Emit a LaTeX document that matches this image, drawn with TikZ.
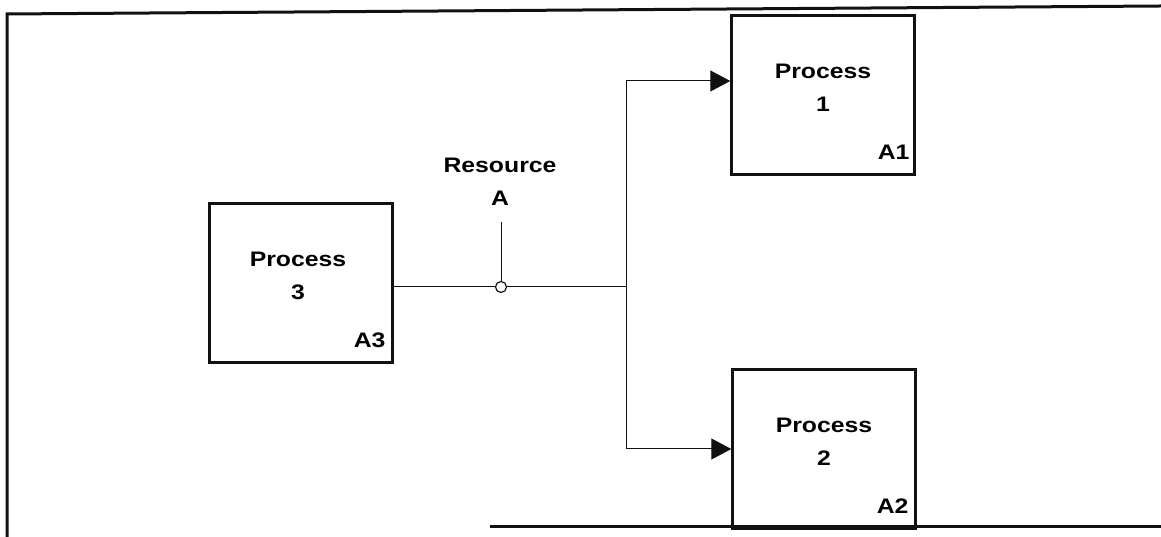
\documentclass[tikz,border=0pt]{standalone}
\usepackage{fontspec}
\setmainfont{Liberation Sans}[FakeStretch=1.18]
\usepackage{xcolor}
\usepackage{tikz}
\usetikzlibrary{
  arrows.meta, shapes, positioning, calc
}
\definecolor{C_INK}{HTML}{111111}
\tikzset{
  %% -- activity box --
  proc/box/.style={
    draw=C_INK, line width=2.4pt,
    minimum width=183pt, minimum height=159pt, inner sep=0pt
  },
  %% -- text inside an activity box --
  proc/txt/.style={
    align=center, inner sep=0pt,
    font=\fontsize{21}{33}\selectfont\bfseries
  },
  %% -- node number in the lower right corner --
  proc/tag/.style={
    anchor=south east, inner sep=0pt,
    font=\fontsize{21}{33}\selectfont\bfseries
  },
  %% -- plain connector line --
  conn/line/.style={draw=C_INK, line width=1pt},
  %% -- connector ending in an arrow --
  conn/arr/.style={-{Triangle[length=20pt, width=21pt]}, line width=1pt, C_INK},
  %% -- junction marking the resource --
  conn/jct/.style={
    circle, draw=C_INK, line width=1.2pt, fill=white,
    minimum size=11pt, inner sep=0pt
  },
  %% -- page frame --
  frame/.style={draw=C_INK, line width=3pt},
}
\begin{document}
\begin{tikzpicture}[
  x=1pt, y=1pt,
]
\useasboundingbox (0,0) rectangle (1161,537);

%% Frame
\draw[frame] (1161,531) -- (7,523) -- (7,-2);
\draw[frame] (490,10) -- (1161,10);

%% Nodes
\node[proc/box] (p3) at (301,254) {};
\node[proc/box] (p1) at (823,442) {};
\node[proc/box] (p2) at (824,88)  {};

\node[proc/txt] (p3t) at ([xshift=-3pt,yshift=7pt]p3.center) {Process\\3};
\node[proc/txt] (p1t) at ([yshift=7pt]p1.center) {Process\\1};
\node[proc/txt] (p2t) at ([yshift=7pt]p2.center) {Process\\2};

\node[proc/tag] (p3a) at ([xshift=-8pt,yshift=16pt]p3.south east) {A3};
\node[proc/tag] (p1a) at ([xshift=-6pt,yshift=16pt]p1.south east) {A1};
\node[proc/tag] (p2a) at ([xshift=-8pt,yshift=16pt]p2.south east) {A2};

%% Resource A
\node[proc/txt] (resA) at (500,355) {Resource\\A};
\node[conn/jct] (jct) at (501,250) {};
\coordinate (tick)  at (501,315);
\coordinate (split) at (626,250);

%% Process 3 -> Processes 1 and 2
\draw[conn/line] (p3.east |- jct) -- (jct.west);
\draw[conn/line] (jct.east) -- (split);
\draw[conn/line] (tick) -- (jct.north);
\draw[conn/arr] (split) |- ([yshift=14pt]p1.west);
\draw[conn/arr] (split) |- (p2.west);
\end{tikzpicture}
\end{document}
